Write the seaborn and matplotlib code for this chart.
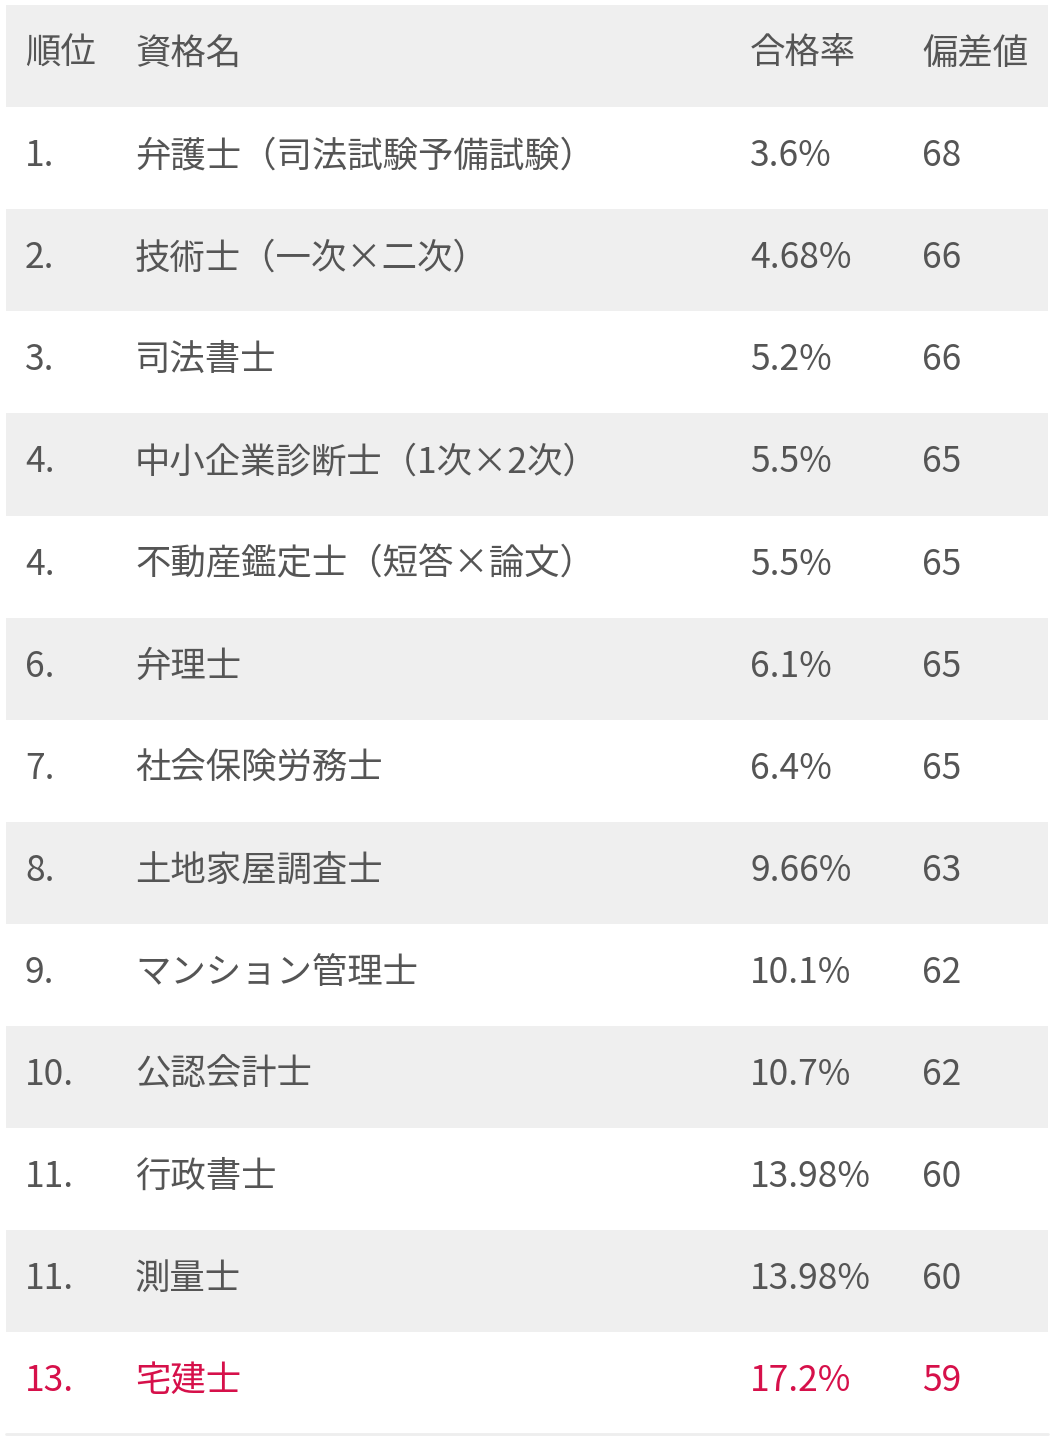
import matplotlib
matplotlib.use("Agg")
import matplotlib.pyplot as plt
import seaborn as sns

sns.set_theme(style="white")
plt.rcParams['font.family'] = ['Noto Sans CJK JP', 'DejaVu Sans']

headers = ["順位", "資格名", "合格率", "偏差値"]
ranks = ["1.", "2.", "3.", "4.", "4.", "6.", "7.", "8.", "9.", "10.", "11.", "11.", "13."]
names = ["弁護士（司法試験予備試験）", "技術士（一次×二次）", "司法書士", "中小企業診断士（1次×2次）",
         "不動産鑑定士（短答×論文）", "弁理士", "社会保険労務士", "土地家屋調査士",
         "マンション管理士", "公認会計士", "行政書士", "測量士", "宅建士"]
rates = ["3.6%", "4.68%", "5.2%", "5.5%", "5.5%", "6.1%", "6.4%", "9.66%",
         "10.1%", "10.7%", "13.98%", "13.98%", "17.2%"]
scores = [68, 66, 66, 65, 65, 65, 65, 63, 62, 62, 60, 60, 59]
highlight = "宅建士"

fig = plt.figure(figsize=(10.6, 14.38), dpi=100)
ax = fig.add_axes([0, 0, 1, 1])
ax.set_xlim(0, 1060)
ax.set_ylim(1438, 0)
ax.axis("off")

top, rh = 5, 102.1
col_x = [25, 135, 750, 922]
gray, txt, red = "#efefef", "#555555", "#d6104a"
fs = 25.5

def row(i, cells, bg, color):
    y0 = top + i * rh
    if bg:
        ax.fill_between([6, 1048], y0, y0 + rh, color=bg, lw=0)
    for x, c in zip(col_x, cells):
        ax.text(x, y0 + rh / 2 - 2, str(c), fontsize=fs, color=color, va="center", ha="left")

row(0, headers, gray, txt)
for i, (r, n, p, s) in enumerate(zip(ranks, names, rates, scores), start=1):
    row(i, [r, n, p, s], gray if i % 2 == 0 else None, red if n == highlight else txt)
ax.plot([6, 1048], [top + 14 * rh, top + 14 * rh], color="#eeeeee", lw=2)

fig.savefig("out.png", dpi=100)
